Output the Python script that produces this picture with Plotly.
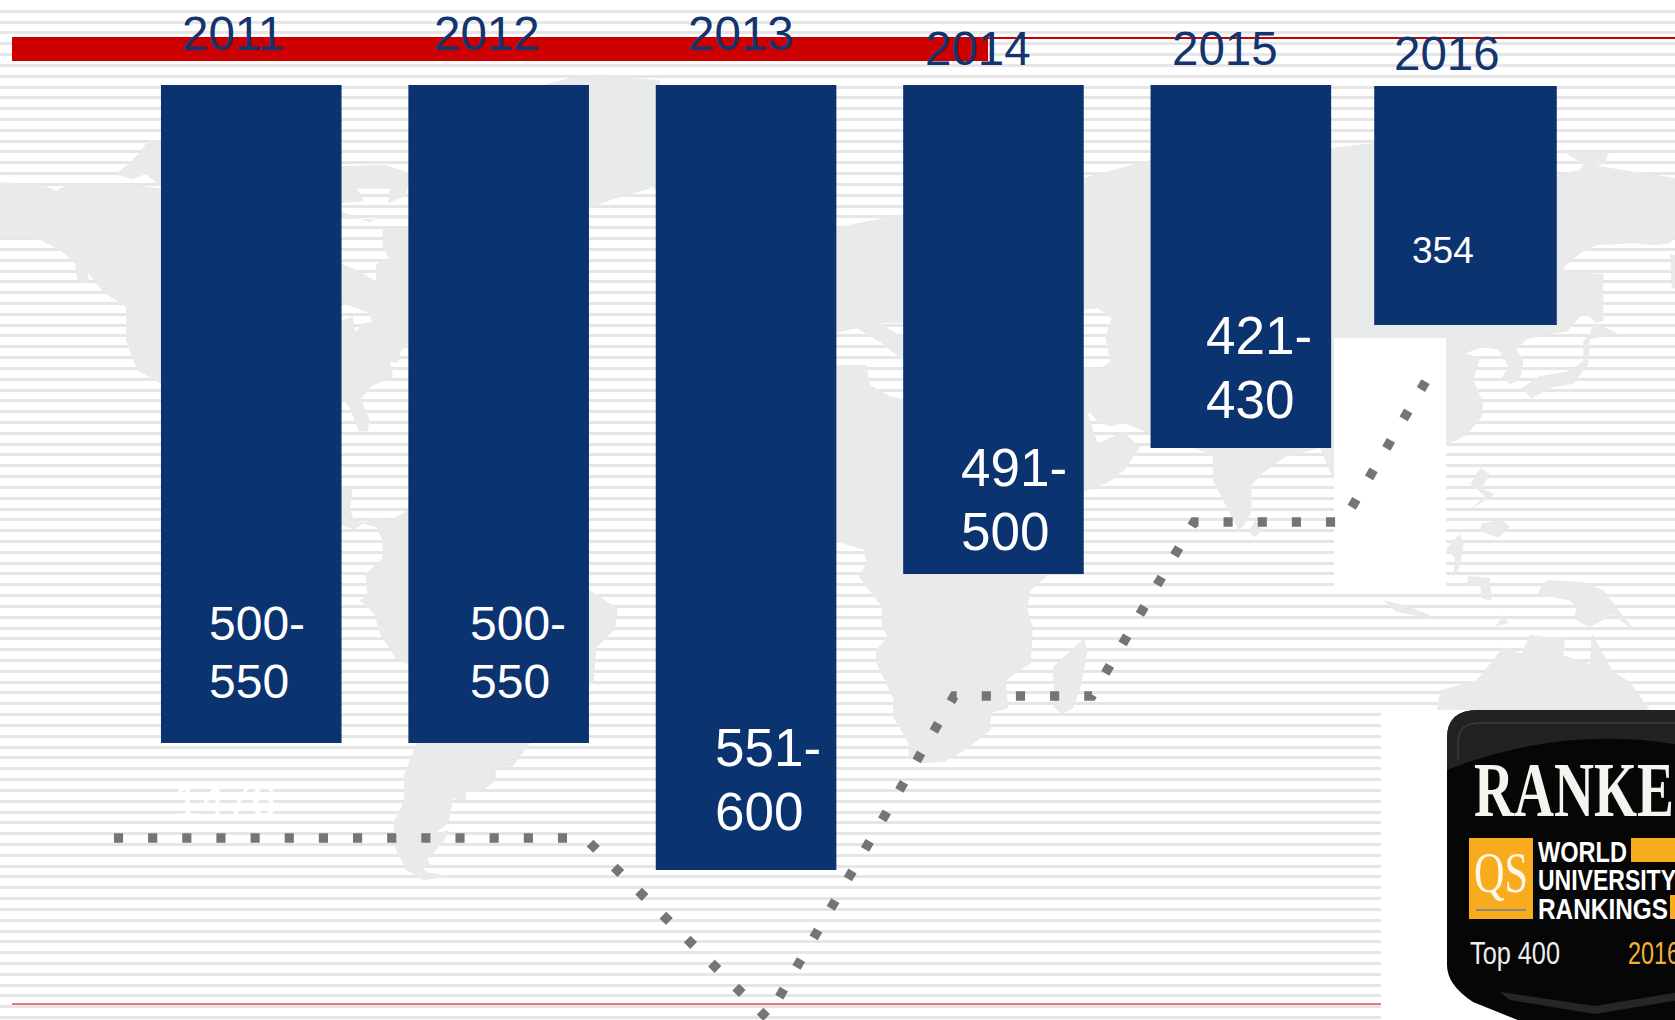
import json
import plotly.graph_objects as go

# ---------- chart data ----------
years = [2011, 2012, 2013, 2014, 2015, 2016]
rank_low = [542.7, 542.7, 600, 466.4, 409.5, 354]      # lower end of each hanging bar
rank_top = [245.7, 245.7, 245.7, 245.7, 245.7, 246.1]  # upper end of each hanging bar
bar_labels = [["500-", "550"], ["500-", "550"], ["551-", "600"],
              ["491-", "500"], ["421-", "430"], ["354"]]
line_year = [2010.444, 2012.348, 2013.084, 2013.840, 2014.397, 2014.810, 2015.412, 2015.792]
line_rank = [585.6, 585.6, 666.8, 521.5, 521.5, 442.9, 442.9, 370.7]
ghost_label = "1476"

# ---------- styling / layout ----------
W, H = 1675, 1020
NAVY = "#0B3370"
LAND = "#E9EBEA"
bar_widths = [0.73, 0.73, 0.73, 0.73, 0.73, 0.738]
bar_offsets = [-0.366, -0.366, -0.366, -0.366, -0.366, -0.462]
year_pos = [(233, 33), (487, 33), (741, 33), (978, 48), (1225, 48), (1447, 53)]
label_pos = [[(208, 623), (208, 681)], [(469, 623), (469, 681)], [(714, 747), (714, 811)],
             [(960, 467), (960, 531)], [(1205, 335), (1205, 399)], [(1411, 250)]]
label_size = [48, 48, 53, 53, 53, 37]


def z5(p): return [(x / 2.34, y / 1.912 + 80) for x, y in p]
def z6(p): return [(x / 2.613 + 830, y / 3 + 300) for x, y in p]
def z7(p): return [(x / 3 + 1440, y / 2.45 + 80) for x, y in p]
def sub(p): return "M" + "L".join(f"{x:.1f},{y:.1f}" for x, y in p) + "Z"


# Background world map outlines (decoration)
north_west = [(0, 182), (43, 185), (56, 191), (66, 185), (128, 184), (165, 189), (165, 386),
              (137, 370), (126, 341), (126, 307), (103, 292), (88, 273), (89, 284), (77, 279),
              (75, 263), (60, 250), (38, 239), (0, 237)]
arctic = z5([(270, 180), (300, 160), (320, 145), (345, 118), (380, 117), (380, 205), (340, 180), (310, 190)])
canada = z5([(795, 165), (900, 162), (960, 178), (950, 222), (908, 235), (912, 208), (835, 208),
             (852, 232), (795, 235), (795, 250), (865, 272), (890, 262), (960, 262), (960, 266), (795, 266)])
usa = z5([(895, 283), (960, 285), (960, 510), (940, 515), (930, 540), (912, 540), (920, 568), (870, 585),
          (845, 610), (865, 650), (860, 672), (840, 672), (820, 630), (795, 600), (795, 462), (825, 452),
          (832, 482), (850, 465), (870, 462), (862, 445), (795, 425), (795, 350), (840, 365), (880, 385),
          (880, 352), (910, 340), (895, 320)])
south_am = z5([(795, 775), (825, 785), (818, 820), (830, 843), (855, 845), (880, 838), (905, 845), (960, 820),
               (1378, 975), (1445, 1010), (1440, 1050), (1395, 1085), (1390, 1150), (1240, 1268), (1200, 1312),
               (1160, 1315), (1160, 1340), (1130, 1358), (1090, 1360), (1090, 1378), (1060, 1375), (1050, 1420),
               (1020, 1440), (1050, 1435), (1035, 1460), (1000, 1490), (1010, 1505), (985, 1505), (1000, 1515),
               (1055, 1522), (990, 1530), (950, 1510), (925, 1470), (920, 1420), (945, 1380), (945, 1330),
               (975, 1268), (960, 1120), (925, 1105), (890, 1060), (875, 1020), (842, 995), (860, 985),
               (855, 945), (895, 915), (895, 880), (880, 855), (850, 848), (830, 860), (795, 850)])
greenland = [(547, 84), (570, 78), (600, 76), (660, 80), (660, 190), (645, 186), (655, 187), (611, 200), (589, 208), (560, 208)]
eurasia = ([(834, 228), (903, 214), (1083, 178), (1150, 160), (1331, 148), (1374, 143)]
           + z7([(350, 235), (420, 220), (430, 205), (370, 175), (505, 180), (495, 205), (470, 210), (705, 240),
                 (705, 385), (690, 400), (640, 405), (580, 400), (470, 405), (420, 425), (370, 460), (385, 470),
                 (490, 475), (490, 590), (470, 595), (440, 575), (420, 580), (385, 615), (310, 625), (260, 635),
                 (230, 660), (250, 690), (240, 735), (210, 745), (185, 730), (205, 700), (185, 675), (175, 660),
                 (125, 655), (75, 670), (120, 680), (100, 735), (130, 790), (125, 825), (80, 870), (18, 895)])
           + z6([(1320, 550), (1280, 445), (1190, 470), (1130, 520), (1102, 555), (1100, 640), (1070, 695),
                 (1040, 630), (1000, 540), (1000, 465), (950, 445), (836, 400), (765, 368), (735, 380), (700, 365),
                 (670, 325), (690, 400), (700, 430), (765, 395), (810, 440), (770, 510), (730, 545), (663, 575),
                 (570, 825), (525, 870), (515, 925), (530, 980), (525, 1090), (460, 1140), (465, 1225), (420, 1240),
                 (420, 1290), (360, 1345), (300, 1385), (240, 1390), (205, 1370), (205, 1330), (165, 1250),
                 (165, 1195), (120, 1085), (120, 1050), (150, 1010), (135, 975), (135, 920), (75, 830), (95, 790),
                 (90, 750), (18, 725), (10, 725), (10, 100)]))
med_hole = z6([(10, 100), (70, 85), (130, 125), (195, 185), (195, 297), (160, 290), (105, 255), (95, 195), (10, 195)])
med_hole2 = z6([(130, 70), (195, 70), (195, 115)])
caspian = z6([(660, 30), (700, 25), (735, 55), (720, 110), (732, 185), (700, 210), (660, 205)])
far_east = z7([(690, 425), (708, 430), (708, 510), (695, 510)])
japan = z7([(460, 595), (535, 620), (450, 635), (445, 695), (400, 745), (340, 752), (285, 775), (275, 780),
            (245, 755), (300, 725), (380, 715), (430, 690), (430, 640), (450, 620)])
madagascar = z6([(665, 1015), (672, 1060), (655, 1160), (635, 1225), (605, 1243), (585, 1220), (583, 1100), (640, 1040)])
sri_lanka = z6([(1110, 660), (1130, 690), (1110, 712), (1095, 695)])
sliver = z6([(1445, 900), (1480, 935), (1568, 955), (1568, 945), (1500, 915)])
philippines = z7([(120, 950), (150, 965), (125, 1000), (165, 1015), (90, 1052), (135, 1020), (92, 990)])
borneo = z7([(125, 1085), (185, 1078), (210, 1095), (175, 1122), (120, 1105)])
sumatra = z7([(58, 1112), (72, 1135), (60, 1190), (40, 1220), (45, 1170), (18, 1150)])
java = z7([(85, 1215), (150, 1220), (155, 1275), (125, 1270), (120, 1235), (80, 1240)])
guinea = z7([(300, 1245), (320, 1225), (430, 1230), (490, 1250), (590, 1355), (520, 1310), (450, 1340),
             (400, 1320), (410, 1295), (390, 1275), (295, 1260)])
celebes = z7([(165, 1340), (190, 1310), (205, 1330)])
australia = z7([(-10, 1545), (0, 1495), (110, 1470), (190, 1390), (245, 1405), (270, 1360), (375, 1370), (370, 1410),
                (450, 1430), (455, 1355), (520, 1450), (570, 1475), (630, 1545)])
map_parts = [north_west, arctic, canada, usa, south_am, greenland, eurasia, med_hole, med_hole2, caspian,
             far_east, japan, madagascar, sri_lanka, sliver, philippines, borneo, sumatra, java, guinea,
             celebes, australia]

shapes = [dict(type="path", xref="x", yref="y", layer="between", fillcolor=LAND, fillrule="evenodd",
               line_width=0, path=" ".join(sub(p) for p in map_parts))]


def rect(x0, y0, x1, y1, color, layer="above"):
    return dict(type="rect", xref="x", yref="y", layer=layer, x0=x0, y0=y0, x1=x1, y1=y1,
                fillcolor=color, line_width=0)


def hline(x0, x1, y, color, w):
    return dict(type="line", xref="x", yref="y", layer="above", x0=x0, x1=x1, y0=y, y1=y,
                line=dict(color=color, width=w))


shapes += [rect(1334, 338, 1446, 594, "white", "between"), rect(1381, 710, W + 5, H + 5, "white", "between")]
shapes += [rect(12, 37, 988, 61, "#CC0000"), hline(988, W, 38, "#CC0000", 2), hline(12, 1381, 1004, "#E87C7C", 2)]

# Badge
badge = "M1447,738 Q1447,710 1478,710 L1680,710 L1680,1025 L1530,1025 L1473,1002 Q1447,985 1447,965 Z"
sheen = "M1447,738 Q1447,710 1478,710 L1680,710 L1680,745 Q1560,725 1447,770 Z"
chevron = "M1500,992 L1595,1006 L1680,992 L1680,1000 L1595,1014 L1510,1000 Z"
for path, col in [(badge, "#060606"), (sheen, "#222222"), (chevron, "#262626")]:
    shapes.append(dict(type="path", xref="x", yref="y", layer="above", path=path, fillcolor=col, line_width=0))
shapes.append(dict(type="path", xref="x", yref="y", layer="above", path="M1458,760 L1458,742 Q1458,723 1478,723 L1680,723",
                   line=dict(color="#4A4A4A", width=1)))
ORANGE = "#F9AB1E"
shapes += [rect(1469, 838, 1533, 919, ORANGE), rect(1631, 838, 1680, 862, ORANGE), rect(1670, 895, 1680, 919, ORANGE),
           hline(1476, 1526, 910, "#8A8A7A", 2)]

ann = []


def txt(text, x, y, size, color, family="Liberation Sans", xanchor="left", weight=400):
    ann.append(dict(text=text, x=x, y=y, xref="x", yref="y", xanchor=xanchor,
                    yanchor="middle", showarrow=False, align="left", borderpad=0,
                    font=dict(size=size, color=color, family=family, weight=weight)))


for yr, (x, y) in zip(years, year_pos):
    txt(str(yr), x, y, 47.5, "#12346F", xanchor="center")
for lines, poss, size in zip(bar_labels, label_pos, label_size):
    for t, (x, y) in zip(lines, poss):
        txt(t, x, y, size, "white")
txt(ghost_label, 173, 801, 46, "white")
txt("RANKED", 1473, 789, 78, "#F5F5F0", "Liberation Serif", weight=700)
txt("QS", 1473, 872, 58, "#FFF8E8", "Liberation Serif")
txt("WORLD", 1537, 851, 30, "white", weight=700)
txt("UNIVERSITY", 1537, 879, 30, "white", weight=700)
txt("RANKINGS", 1537, 908, 30, "white", weight=700)
txt("Top 400", 1469, 953, 32, "#EEEEEE")
txt("2016", 1627, 953, 32, "#F2B134")

# widths (px) of the condensed badge lettering
condensed = {"RANKED": 240, "QS": 54, "WORLD": 89, "UNIVERSITY": 138, "RANKINGS": 130, "Top 400": 90, "2016": 52}

fig = go.Figure()
fig.add_trace(go.Bar(x=years, y=[lo - t for lo, t in zip(rank_low, rank_top)], base=rank_top,
                     width=bar_widths, offset=bar_offsets, marker=dict(color=NAVY, line_width=0),
                     xaxis="x2", yaxis="y2", showlegend=False))
fig.add_trace(go.Scatter(x=line_year, y=line_rank, mode="lines", xaxis="x2", yaxis="y2", showlegend=False,
                         line=dict(color="#757575", width=9.5, dash="9.15px,25px")))

blank = dict(showticklabels=False, ticks="", showline=False, zeroline=False, showgrid=False, fixedrange=True)
fig.update_layout(
    width=W, height=H, autosize=False, margin=dict(l=0, r=0, t=0, b=0),
    paper_bgcolor="white", plot_bgcolor="white", showlegend=False,
    xaxis=dict(range=[0, W], domain=[0, 1], **blank),
    yaxis=dict(range=[H, 0], domain=[0, 1], **{**blank, "showgrid": True}, gridcolor="#E6E6E6", gridwidth=3,
               tick0=0.5, dtick=10.82),
    xaxis2=dict(range=[2009.9834, 2016.7538], overlaying="x", anchor="y2", **blank),
    yaxis2=dict(range=[667.7, 207.3], overlaying="y", anchor="x2", **blank),
    shapes=shapes, annotations=ann,
)
post = ("document.body.style.margin='0';document.body.style.overflow='hidden';"
        "var cond=" + json.dumps(condensed) + ";"
        "var seen2016=0;"
        "document.querySelectorAll('.annotation-text').forEach(function(t){"
        "var s=t.textContent;if(!(s in cond))return;"
        "if(s==='2016'&&seen2016++===0)return;"
        "t.setAttribute('textLength',cond[s]);t.setAttribute('lengthAdjust','spacingAndGlyphs');});")
fig.write_html("out.html", post_script=post, config={"displayModeBar": False})
